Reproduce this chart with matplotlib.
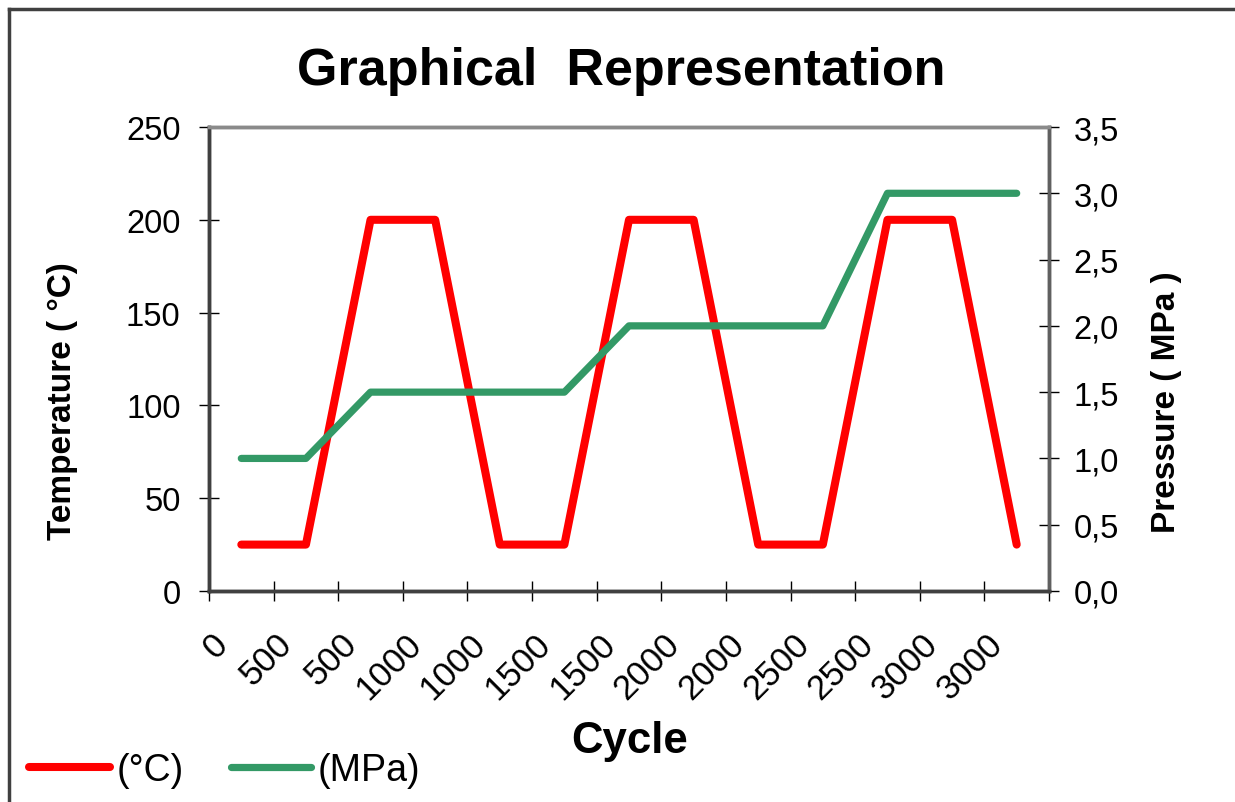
import numpy as np
import matplotlib
matplotlib.use("Agg")
import matplotlib.pyplot as plt
import matplotlib.transforms as mtransforms
from matplotlib.lines import Line2D

plt.rcParams['font.family'] = ['Liberation Sans', 'DejaVu Sans']

# data
cycle_labels = ["0", "500", "500", "1000", "1000", "1500", "1500",
                "2000", "2000", "2500", "2500", "3000", "3000"]
temperature = [25, 25, 200, 200, 25, 25, 200, 200, 25, 25, 200, 200, 25]
pressure = [1.0, 1.0, 1.5, 1.5, 1.5, 1.5, 2.0, 2.0, 2.0, 2.0, 3.0, 3.0, 3.0]
temp_ticks = [0, 50, 100, 150, 200, 250]
press_ticks = [0.0, 0.5, 1.0, 1.5, 2.0, 2.5, 3.0, 3.5]

red = '#FF0000'
green = '#339966'

fig = plt.figure(figsize=(12.35, 8.03), dpi=100)
ax = fig.add_axes([209/1235, 1 - 592/803, 840/1235, 464/803])
ax2 = ax.twinx()

x = np.arange(len(cycle_labels))
l1, = ax.plot(x, temperature, color=red, lw=5.8, solid_capstyle='round',
              solid_joinstyle='round', label='(°C)')
l2, = ax2.plot(x, pressure, color=green, lw=5.2, solid_capstyle='round',
               solid_joinstyle='round', label='(MPa)')

ax.set_xlim(-0.5, len(cycle_labels) - 0.5)
ax.set_ylim(0, 250)
ax2.set_ylim(0, 3.5)

# category boundaries as major ticks, labels at category centres
ax.set_xticks(np.arange(-0.5, len(cycle_labels)), [])
ax.set_xticks(x, cycle_labels, minor=True)
ax.tick_params(axis='x', which='major', direction='inout', length=15, width=1, color='black')
ax.tick_params(axis='x', which='minor', length=0, pad=34, labelsize=25)
offset = mtransforms.ScaledTranslation(-0.19, 0, fig.dpi_scale_trans)
for lab in ax.get_xticklabels(minor=True):
    lab.set_rotation(45)
    lab.set_rotation_mode('anchor')
    lab.set_ha('right')
    lab.set_va('center')
    lab.set_transform(lab.get_transform() + offset)

ax.set_yticks(temp_ticks)
ax.tick_params(axis='y', direction='inout', length=15, width=1, color='black',
               labelsize=23.5, pad=13)
ax2.set_yticks(press_ticks, [f"{v:.1f}".replace('.', ',') for v in press_ticks])
ax2.tick_params(axis='y', direction='inout', length=15, width=1, color='black',
                labelsize=23.5, pad=10)

for a in (ax, ax2):
    a.spines['left'].set_color('#404040')
    a.spines['bottom'].set_color('#404040')
    a.spines['top'].set_color('#8a8a8a')
    a.spines['right'].set_color('#606060')
    for s in a.spines.values():
        s.set_linewidth(2.5)

fig.text(621/1235, 1 - 85/803, "Graphical  Representation", ha='center',
         va='baseline', fontsize=37.5, fontweight='bold')
fig.text(630/1235, 1 - 753/803, "Cycle", ha='center', va='baseline',
         fontsize=31.5, fontweight='bold')
fig.text(63/1235, 1 - 401/803, "Temperature ( °C)", rotation=90, ha='center',
         va='center', fontsize=24, fontweight='bold')
fig.text(1167/1235, 1 - 402/803, "Pressure ( MPa )", rotation=90, ha='center',
         va='center', fontsize=24, fontweight='bold')

fig.legend(handles=[l1, l2], loc='center left', bbox_to_anchor=(29/1235, 1 - 771/803),
           ncol=2, frameon=False, fontsize=27, handlelength=2.15, handletextpad=0.18,
           columnspacing=1.25, borderpad=0, borderaxespad=0)

# outer frame (top and left only are visible)
fig.add_artist(Line2D([9/1235, 1], [1 - 10/803, 1 - 10/803], color='#404040', lw=2.5))
fig.add_artist(Line2D([9/1235, 9/1235], [0, 1 - 10/803], color='#404040', lw=2.5))

fig.savefig('out.png', dpi=100)
